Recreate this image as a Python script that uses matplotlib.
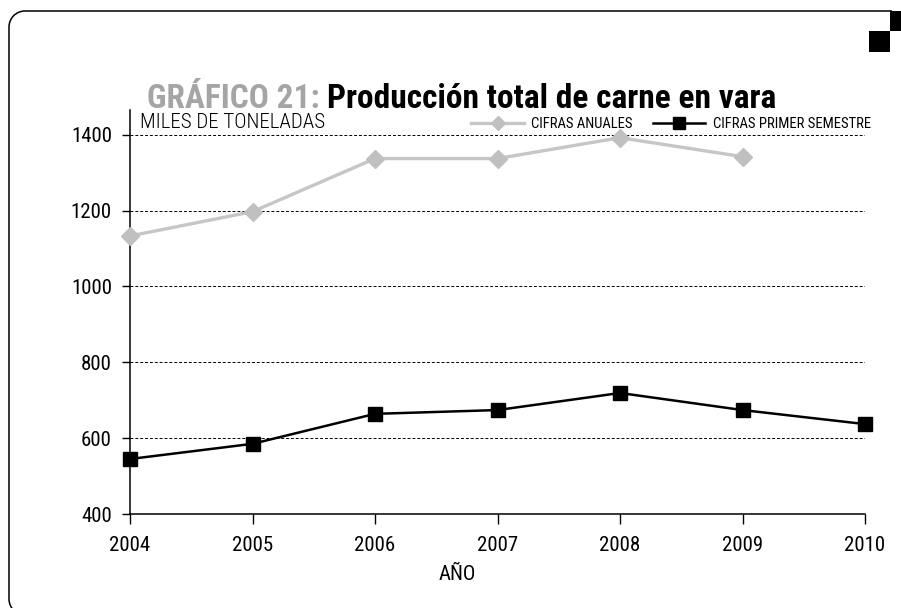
import matplotlib
matplotlib.use("Agg")
import matplotlib.pyplot as plt
from matplotlib import font_manager
from matplotlib.patches import Arc, Rectangle

# ── Data ─────────────────────────────────────────────
years_annual = [2004, 2005, 2006, 2007, 2008, 2009]
annual = [1133, 1197, 1337, 1337, 1392, 1342]

years_sem = [2004, 2005, 2006, 2007, 2008, 2009, 2010]
semester = [545, 585, 664, 674, 719, 674, 637]

yticks = [400, 600, 800, 1000, 1200, 1400]
xticks = [2004, 2005, 2006, 2007, 2008, 2009, 2010]

# condensed face, whichever is installed
installed = {f.name for f in font_manager.fontManager.ttflist}
narrow = [n for n in ("Roboto Condensed", "Archivo Narrow", "PT Sans Narrow",
                      "Liberation Sans Narrow", "Barlow Condensed")
          if n in installed]
plt.rcParams["font.family"] = narrow[:1] + ["DejaVu Sans"]

W, H = 901, 608
fig = plt.figure(figsize=(W / 100, H / 100), dpi=100, facecolor="white")

# ── Frame (rounded border + corner squares), pixel coords ──
bg = fig.add_axes([0, 0, 1, 1], zorder=0)
bg.set_xlim(0, W)
bg.set_ylim(H, 0)
bg.axis("off")
R = 16
frame = dict(color="black", linewidth=1.1, solid_capstyle="butt")
bg.plot([9, 9], [11 + R, 615 - R], **frame)
bg.plot([9 + R, 892], [11, 11], **frame)
bg.add_patch(Arc((9 + R, 11 + R), 2 * R, 2 * R, theta1=180, theta2=270,
                 color="black", linewidth=1.1))
bg.add_patch(Arc((9 + R, 615 - R), 2 * R, 2 * R, theta1=90, theta2=180,
                 color="black", linewidth=1.1))
bg.add_patch(Rectangle((890, 11), 14, 20, facecolor="black", edgecolor="none"))
bg.add_patch(Rectangle((869, 31), 21, 21, facecolor="black", edgecolor="none"))

# ── Main axes ───────────────────────────────────────
ax = fig.add_axes([130 / W, 1 - 514 / H, 735 / W, 404 / H], zorder=1)
ax.patch.set_alpha(0)

ax.plot(years_annual, annual, color="#c6c6c6", linewidth=2.4, marker="D",
        markersize=9.5, markeredgecolor="#c0c0c0", markerfacecolor="#c0c0c0",
        clip_on=False, zorder=3, label="CIFRAS ANUALES")
ax.plot(years_sem, semester, color="black", linewidth=1.8, marker="s",
        markersize=10, clip_on=False, zorder=4, label="CIFRAS PRIMER SEMESTRE")

ax.set_xlim(2004, 2010)
ax.set_ylim(400, 1465)
ax.set_xticks(xticks)
ax.set_yticks(yticks)
ax.tick_params(axis="x", direction="out", length=7, width=1, pad=9,
               labelsize=15)
ax.tick_params(axis="y", direction="out", length=6, width=1, pad=7,
               labelsize=15)

for y in yticks[1:]:
    ax.axhline(y, color="black", linewidth=0.7, linestyle=(0, (3, 2)), zorder=1)

for side in ("top", "right"):
    ax.spines[side].set_visible(False)
for side in ("left", "bottom"):
    ax.spines[side].set_linewidth(1.1)

ax.text(10 / 735, (514 - 123) / 404, "MILES DE TONELADAS", transform=ax.transAxes,
        fontsize=15, fontweight="light", va="center", ha="left")

leg = ax.legend(loc="center right", bbox_to_anchor=(1.008, 0.966), ncol=2,
                frameon=False, fontsize=10.5, handlelength=3.6,
                handletextpad=0.5, columnspacing=1.4, borderaxespad=0,
                borderpad=0, markerscale=0.8)

fig.text(457 / W, 1 - 575 / H, "AÑO", fontsize=15, ha="center", va="center")

# ── Title ───────────────────────────────────────────
t1 = fig.text(147 / W, 1 - 99 / H, "GRÁFICO 21:", fontsize=24,
              fontweight="bold", color="#a5a5a5", ha="left", va="center")
bg.annotate("Producción total de carne en vara", xy=(1, 0), xycoords=t1,
            xytext=(5, 0), textcoords="offset points", fontsize=24,
            fontweight="bold", color="black", ha="left", va="bottom")

fig.savefig("out.png", dpi=100)
